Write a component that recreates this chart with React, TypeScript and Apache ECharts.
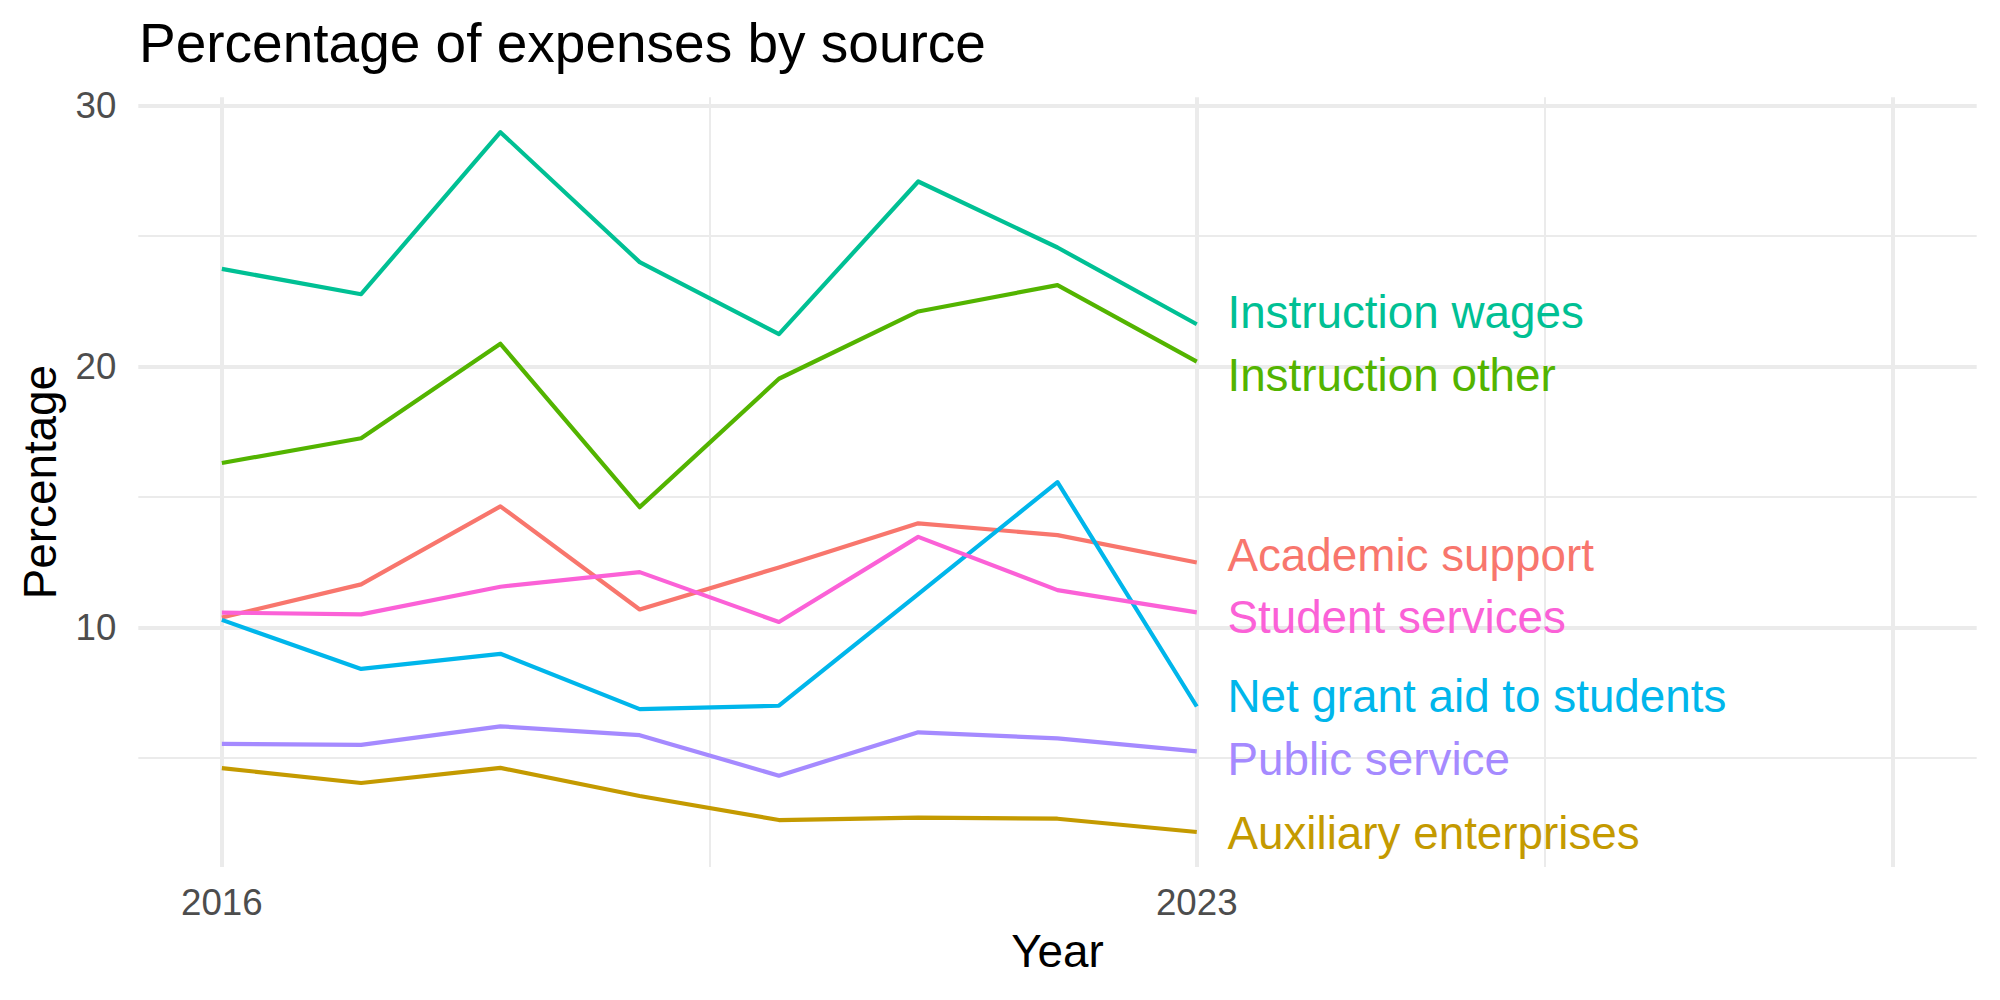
import React, { useEffect, useRef } from "react";
import * as echarts from "echarts";

const years = [2016, 2017, 2018, 2019, 2020, 2021, 2022, 2023];
const seriesNames = [
  "Academic support",
  "Auxiliary enterprises",
  "Instruction other",
  "Instruction wages",
  "Net grant aid to students",
  "Public service",
  "Student services",
];
const academicSupport = [10.38, 11.65, 14.64, 10.69, 12.3, 13.99, 13.54, 12.49];
const auxiliaryEnterprises = [4.61, 4.04, 4.62, 3.54, 2.62, 2.71, 2.67, 2.16];
const instructionOther = [16.3, 17.25, 20.87, 14.61, 19.53, 22.11, 23.12, 20.19];
const instructionWages = [23.74, 22.77, 28.98, 24.0, 21.24, 27.09, 24.56, 21.62];
const netGrantAid = [10.29, 8.41, 8.99, 6.87, 7.0, 11.28, 15.57, 6.97];
const publicService = [5.54, 5.5, 6.21, 5.87, 4.32, 5.98, 5.75, 5.25];
const studentServices = [10.57, 10.5, 11.56, 12.12, 10.21, 13.47, 11.43, 10.58];
const seriesValues = [
  academicSupport,
  auxiliaryEnterprises,
  instructionOther,
  instructionWages,
  netGrantAid,
  publicService,
  studentServices,
];
const labelX = 2023.22;
const labelY = [12.75, 2.09, 19.64, 22.06, 7.35, 4.95, 10.39];
const colors = ["#F8766D", "#C49A00", "#53B400", "#00C094", "#00B6EB", "#A58AFF", "#FB61D7"];
const yTicks = [10, 20, 30];
const yMinorGrid = [5, 15, 25];
const xTicks = [2016, 2023];
const xMajorGrid = [2016, 2023, 2028];
const xMinorGrid = [2019.5, 2025.5];

const FONT = "'Liberation Sans', Arial, Helvetica, sans-serif";

export default function App() {
  const ref = useRef<HTMLDivElement>(null);
  useEffect(() => {
    if (!ref.current) return;
    const chart = echarts.init(ref.current, null, { renderer: "svg" });

    const gridSeries = (xs: number[], ys: number[], width: number) => ({
      type: "line",
      data: [],
      silent: true,
      z: 1,
      markLine: {
        z: 1,
        silent: true,
        symbol: ["none", "none"],
        label: { show: false },
        lineStyle: { color: "#EBEBEB", width, type: "solid", opacity: 1 },
        emphasis: { disabled: true },
        data: [...xs.map((v) => ({ xAxis: v })), ...ys.map((v) => ({ yAxis: v }))],
      },
    });

    const lineSeries = seriesNames.map((name, i) => ({
      name,
      type: "line",
      data: years.map((y, j) => [y, seriesValues[i][j]]),
      showSymbol: false,
      symbol: "none",
      silent: true,
      z: 3,
      lineStyle: { color: colors[i], width: 4.2, join: "round", cap: "butt", opacity: 1 },
      itemStyle: { color: colors[i] },
    }));

    const labelSeries = seriesNames.map((name, i) => ({
      name: name + " label",
      type: "scatter",
      data: [[labelX, labelY[i]]],
      symbolSize: 0,
      silent: true,
      z: 4,
      itemStyle: { color: colors[i], opacity: 1 },
      label: {
        show: true,
        position: "right",
        distance: 0,
        formatter: name,
        color: colors[i],
        opacity: 1,
        fontSize: 45.8,
        fontFamily: FONT,
      },
    }));

    chart.setOption({
      animation: false,
      backgroundColor: "#FFFFFF",
      title: {
        text: "Percentage of expenses by source",
        left: 139,
        top: 15,
        padding: 0,
        textStyle: { fontSize: 55, fontWeight: "normal", color: "#000000", fontFamily: FONT },
      },
      grid: {
        left: 138.3,
        right: 23.3,
        top: 97.2,
        bottom: 133,
        containLabel: false,
        outerBoundsMode: "none",
      },
      xAxis: {
        type: "value",
        min: 2015.4,
        max: 2028.6,
        name: "Year",
        nameLocation: "middle",
        nameGap: 61,
        nameTextStyle: { fontSize: 45.8, color: "#000000", fontFamily: FONT },
        axisLine: { show: false },
        axisTick: { show: false, customValues: xTicks },
        splitLine: { show: false },
        axisLabel: {
          customValues: xTicks,
          fontSize: 36.7,
          color: "#4D4D4D",
          margin: 17,
          fontFamily: FONT,
          formatter: (v: number) => String(v),
        },
      },
      yAxis: {
        type: "value",
        min: 0.82,
        max: 30.32,
        name: "Percentage",
        nameLocation: "middle",
        nameGap: 75,
        nameRotate: 90,
        nameTextStyle: { fontSize: 45.8, color: "#000000", fontFamily: FONT },
        axisLine: { show: false },
        axisTick: { show: false, customValues: yTicks },
        splitLine: { show: false },
        axisLabel: {
          customValues: yTicks,
          fontSize: 36.7,
          color: "#4D4D4D",
          margin: 22,
          fontFamily: FONT,
          formatter: (v: number) => String(v),
        },
      },
      series: [
        gridSeries(xMinorGrid, yMinorGrid, 2),
        gridSeries(xMajorGrid, yTicks, 4),
        ...lineSeries,
        ...labelSeries,
      ],
    });

    return () => {
      chart.dispose();
    };
  }, []);

  return (
    <div
      ref={ref}
      style={{ position: "fixed", left: 0, top: 0, width: 2000, height: 1000, background: "#fff" }}
    />
  );
}
